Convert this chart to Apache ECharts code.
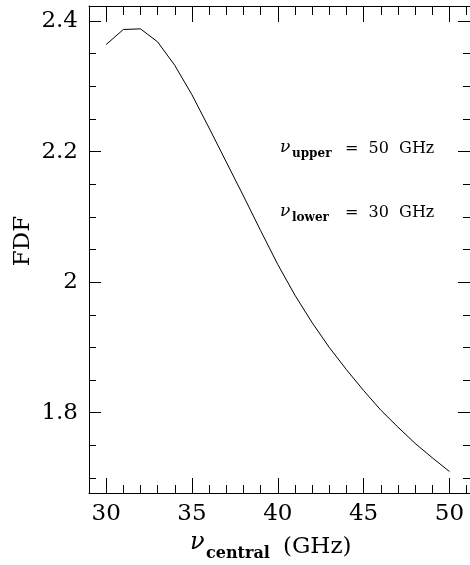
<!DOCTYPE html>
<html><head><meta charset="utf-8">
<script src="https://cdn.jsdelivr.net/npm/echarts@6/dist/echarts.min.js"></script>
<style>html,body{margin:0;padding:0;background:#fff}#c{width:470px;height:565px}</style>
</head><body><div id="c"></div>
<script>
const xCentral = [30,31,32,33,34,35,36,37,38,39,40,41,42,43,44,45,46,47,48,49,50];
const fdf = [2.364,2.387,2.388,2.368,2.332,2.287,2.236,2.184,2.132,2.079,2.027,1.980,1.938,1.900,1.866,1.834,1.804,1.778,1.753,1.731,1.710];
const xTickLabels = [30,35,40,45,50];
const yTickLabels = [1.8,2.0,2.2,2.4];
const xMinorTicks = [29,31,32,33,34,36,37,38,39,41,42,43,44,46,47,48,49,51];
const yMinorTicks = [1.7,1.75,1.85,1.9,1.95,2.05,2.1,2.15,2.25,2.3,2.35];

const X_MIN = 29, X_MAX = 51.2, Y_MIN = 1.677, Y_MAX = 2.423;
const FONT = 'DejaVu Serif';
const gridRect = {left: 89, top: 6, width: 385.5, height: 487};

function xAx(grid, pos, ticks, len, labels, line) {
  return {type:'value', gridIndex:grid, position:pos, min:X_MIN, max:X_MAX,
    axisLine:{show:line, lineStyle:{color:'#000', width:1}},
    axisTick:{show:true, inside:true, length:len, customValues:ticks, lineStyle:{color:'#000', width:1}},
    axisLabel:{show:labels, customValues:ticks, margin:10, color:'#000', fontFamily:FONT, fontSize:23, formatter:v=>String(v)},
    splitLine:{show:false}};
}
function yAx(grid, pos, ticks, len, labels, line) {
  return {type:'value', gridIndex:grid, position:pos, min:Y_MIN, max:Y_MAX,
    axisLine:{show:line, lineStyle:{color:'#000', width:1}},
    axisTick:{show:true, inside:true, length:len, customValues:ticks, lineStyle:{color:'#000', width:1}},
    axisLabel:{show:labels, customValues:ticks, margin:11, color:'#000', fontFamily:FONT, fontSize:23,
      formatter:v=>String(Math.round(v*10)/10)},
    splitLine:{show:false}};
}

const chart = echarts.init(document.getElementById('c'), null, {renderer:'canvas'});
chart.setOption({
  animation:false,
  backgroundColor:'#fff',
  grid:[Object.assign({}, gridRect), Object.assign({}, gridRect)],
  xAxis:[
    xAx(0,'bottom',xTickLabels,15,true,true),
    xAx(0,'top',xTickLabels,16,false,true),
    xAx(1,'bottom',xMinorTicks,8,false,false),
    xAx(1,'top',xMinorTicks,9,false,false)
  ],
  yAxis:[
    yAx(0,'left',yTickLabels,12,true,true),
    yAx(0,'right',yTickLabels,12,false,true),
    yAx(1,'left',yMinorTicks,7,false,false),
    yAx(1,'right',yMinorTicks,7,false,false)
  ],
  series:[{
    type:'line', xAxisIndex:0, yAxisIndex:0, showSymbol:false, silent:true,
    data: xCentral.map((x,i)=>[x, fdf[i]]),
    lineStyle:{color:'#000', width:1}
  }],
  graphic:[
    {type:'text', x:23, y:241, rotation:Math.PI/2,
      style:{text:'FDF', font:'23px "DejaVu Serif"', fill:'#000', align:'center', verticalAlign:'middle'}},
    {type:'text', x:190, y:555, style:{text:'ν', font:'italic 24px "DejaVu Serif"', fill:'#000', align:'left', verticalAlign:'bottom'}},
    {type:'text', x:206, y:562, style:{text:'central', font:'bold 16px "DejaVu Serif"', fill:'#000', align:'left', verticalAlign:'bottom'}},
    {type:'text', x:283, y:559, style:{text:'(GHz)', font:'23px "DejaVu Serif"', fill:'#000', align:'left', verticalAlign:'bottom'}},
    {type:'text', x:280, y:156, style:{text:'ν', font:'italic 17px "DejaVu Serif"', fill:'#000', align:'left', verticalAlign:'bottom'}},
    {type:'text', x:292, y:160, style:{text:'upper', font:'bold 12px "DejaVu Serif"', fill:'#000', align:'left', verticalAlign:'bottom'}},
    {type:'text', x:345, y:157, style:{text:'=  50  GHz', font:'16px "DejaVu Serif"', fill:'#000', align:'left', verticalAlign:'bottom'}},
    {type:'text', x:280, y:220, style:{text:'ν', font:'italic 17px "DejaVu Serif"', fill:'#000', align:'left', verticalAlign:'bottom'}},
    {type:'text', x:292, y:224, style:{text:'lower', font:'bold 12px "DejaVu Serif"', fill:'#000', align:'left', verticalAlign:'bottom'}},
    {type:'text', x:345, y:221, style:{text:'=  30  GHz', font:'16px "DejaVu Serif"', fill:'#000', align:'left', verticalAlign:'bottom'}}
  ]
});
</script></body></html>
